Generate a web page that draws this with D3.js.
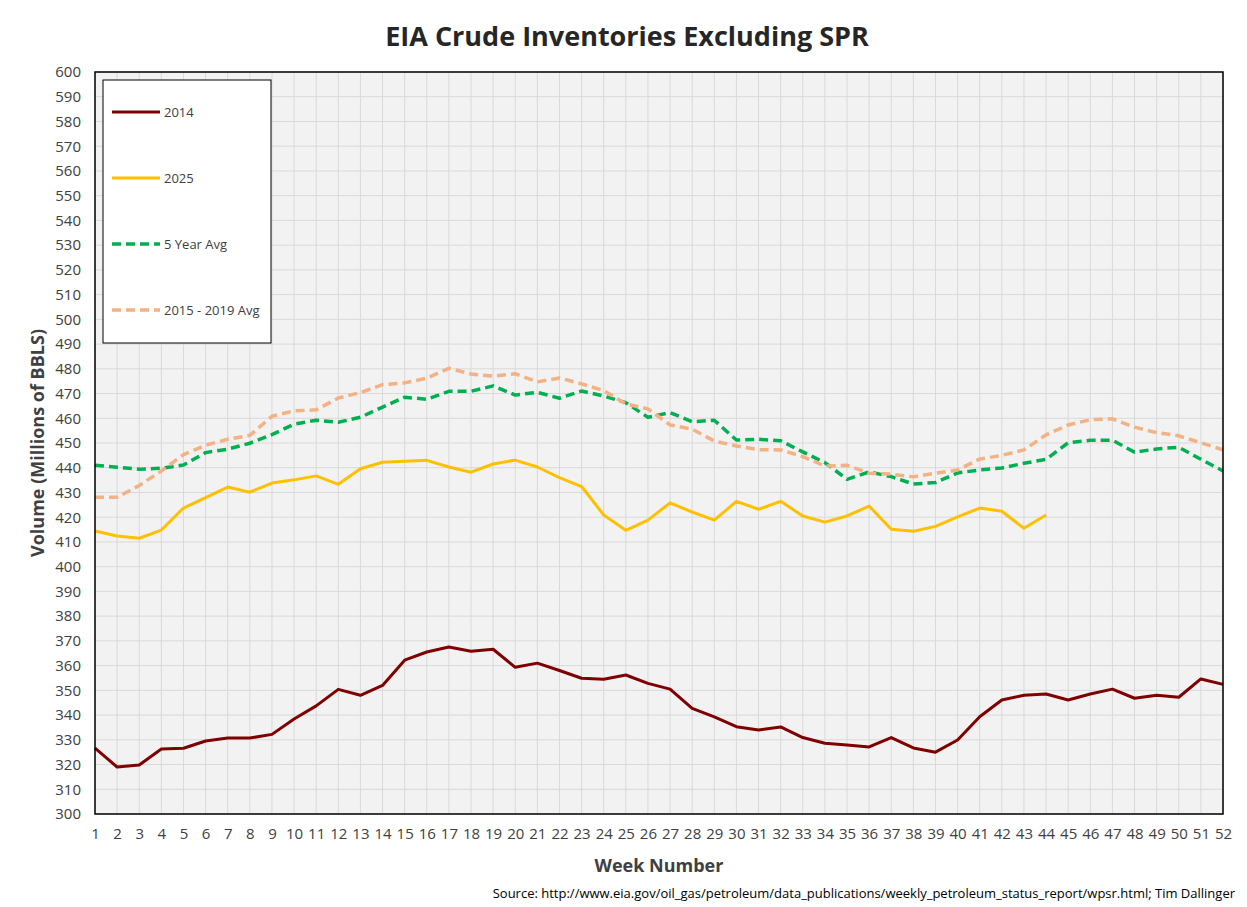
<!DOCTYPE html>
<html>
<head>
<meta charset="utf-8">
<script src="https://cdn.jsdelivr.net/npm/d3@7"></script>
<style>
  body { margin: 0; background: #fff; }
  text { font-family: "Open Sans", "DejaVu Sans", sans-serif; }
</style>
</head>
<body>
<div id="chart"></div>
<script>
const weeks = d3.range(1, 53);
const yTicks = d3.range(300, 601, 10);

const series2014 = [326.6, 319.0, 319.8, 326.3, 326.6, 329.5, 330.7, 330.7, 332.2, 338.4,
  343.7, 350.4, 348.0, 352.0, 362.2, 365.5, 367.5, 365.8, 366.6, 359.3,
  361.0, 358.0, 354.9, 354.5, 356.2, 352.8, 350.5, 342.7, 339.3, 335.3,
  334.0, 335.2, 330.9, 328.6, 327.9, 327.1, 330.9, 326.7, 325.0, 329.9,
  339.3, 346.1, 348.0, 348.5, 346.1, 348.5, 350.5, 346.8, 348.0, 347.2,
  354.6, 352.4];

const series2025 = [414.4, 412.4, 411.5, 414.8, 423.7, 427.9, 432.2, 430.1, 433.8, 435.1,
  436.7, 433.3, 439.6, 442.2, 442.6, 443.0, 440.3, 438.2, 441.5, 443.1,
  440.3, 436.0, 432.4, 420.9, 414.7, 418.8, 425.8, 422.1, 418.8, 426.4,
  423.2, 426.4, 420.5, 418.0, 420.5, 424.5, 415.1, 414.3, 416.3, 420.1,
  423.7, 422.4, 415.5, 420.9];

const fiveYearAvg = [441.0, 440.2, 439.4, 439.8, 441.1, 446.1, 447.5, 449.9, 453.4, 457.6,
  459.2, 458.4, 460.4, 464.5, 468.5, 467.7, 470.9, 470.9, 473.1, 469.4,
  470.5, 468.1, 471.0, 469.0, 466.3, 460.4, 462.3, 458.6, 459.2, 451.2,
  451.5, 450.9, 446.4, 442.1, 435.3, 438.3, 436.4, 433.4, 434.0, 437.9,
  439.1, 439.9, 441.8, 443.4, 450.1, 451.1, 451.1, 446.3, 447.6, 448.3,
  443.4, 438.7];

const avg2015to2019 = [428.1, 428.1, 432.8, 438.7, 445.3, 449.1, 451.5, 453.1, 460.8, 463.0,
  463.4, 468.2, 470.4, 473.6, 474.3, 476.2, 480.2, 477.9, 477.0, 478.0,
  474.7, 476.3, 473.9, 471.2, 465.8, 463.8, 457.3, 455.6, 450.8, 448.8,
  447.3, 447.2, 444.5, 440.7, 441.0, 437.8, 437.4, 436.3, 437.8, 439.1,
  443.5, 445.0, 447.2, 453.3, 457.3, 459.4, 459.8, 456.4, 454.2, 452.9,
  450.1, 447.2];

const seriesList = [
  { name: "2014", values: series2014, color: "#7f0000", dash: null },
  { name: "2025", values: series2025, color: "#ffc000", dash: null },
  { name: "5 Year Avg", values: fiveYearAvg, color: "#00b050", dash: "9,5" },
  { name: "2015 - 2019 Avg", values: avg2015to2019, color: "#f4b183", dash: "9,5" }
];

const W = 1247, H = 907;
const margin = { top: 72, right: 24, bottom: 93, left: 95 };
const width = W - margin.left - margin.right;
const height = H - margin.top - margin.bottom;

const svg = d3.select("#chart").append("svg")
  .attr("width", W)
  .attr("height", H);

svg.append("rect").attr("width", W).attr("height", H).attr("fill", "#fff");

// Title
svg.append("text")
  .attr("x", 627)
  .attr("y", 46)
  .attr("text-anchor", "middle")
  .style("font-size", "27px")
  .style("font-weight", "bold")
  .style("fill", "#262626")
  .text("EIA Crude Inventories Excluding SPR");

const g = svg.append("g").attr("transform", `translate(${margin.left},${margin.top})`);

const x = d3.scaleLinear().domain([1, 52]).range([0, width]);
const y = d3.scaleLinear().domain([300, 600]).range([height, 0]);

g.append("rect")
  .attr("width", width)
  .attr("height", height)
  .attr("fill", "#f2f2f2");

// Grid lines
g.append("g")
  .selectAll("line")
  .data(yTicks)
  .join("line")
  .attr("x1", 0).attr("x2", width)
  .attr("y1", d => y(d)).attr("y2", d => y(d))
  .attr("stroke", "#d9d9d9")
  .attr("stroke-width", 1);

g.append("g")
  .selectAll("line")
  .data(weeks)
  .join("line")
  .attr("x1", d => x(d)).attr("x2", d => x(d))
  .attr("y1", 0).attr("y2", height)
  .attr("stroke", "#d9d9d9")
  .attr("stroke-width", 1);

// Axes (labels only)
const yAxis = g.append("g")
  .call(d3.axisLeft(y).tickValues(yTicks).tickSize(0).tickPadding(14));
yAxis.select(".domain").remove();
yAxis.selectAll("text")
  .style("font-size", "15px")
  .style("fill", "#404040")
  .style("font-family", "'Open Sans', sans-serif");

const xAxis = g.append("g")
  .attr("transform", `translate(0,${height})`)
  .call(d3.axisBottom(x).tickValues(weeks).tickFormat(d3.format("d")).tickSize(0).tickPadding(14));
xAxis.select(".domain").remove();
xAxis.selectAll("text")
  .style("font-size", "15px")
  .style("fill", "#404040")
  .style("font-family", "'Open Sans', sans-serif");

// Lines
const line = d3.line()
  .x((d, i) => x(weeks[i]))
  .y(d => y(d));

seriesList.forEach(s => {
  g.append("path")
    .datum(s.values)
    .attr("fill", "none")
    .attr("stroke", s.color)
    .attr("stroke-width", s.dash ? 3.5 : 3)
    .attr("stroke-dasharray", s.dash)
    .attr("stroke-linejoin", "round")
    .attr("d", line);
});

// Plot border
g.append("rect")
  .attr("width", width)
  .attr("height", height)
  .attr("fill", "none")
  .attr("stroke", "#000")
  .attr("stroke-width", 1.5);

// Axis titles
svg.append("text")
  .attr("transform", `translate(44,${margin.top + height / 2}) rotate(-90)`)
  .attr("text-anchor", "middle")
  .style("font-size", "18px")
  .style("font-weight", "bold")
  .style("fill", "#404040")
  .text("Volume (Millions of BBLS)");

svg.append("text")
  .attr("x", 659)
  .attr("y", 872)
  .attr("text-anchor", "middle")
  .style("font-size", "18px")
  .style("font-weight", "bold")
  .style("fill", "#404040")
  .text("Week Number");

// Source
svg.append("text")
  .attr("x", 1235)
  .attr("y", 898)
  .attr("text-anchor", "end")
  .style("font-size", "13px")
  .style("fill", "#000")
  .text("Source: http://www.eia.gov/oil_gas/petroleum/data_publications/weekly_petroleum_status_report/wpsr.html; Tim Dallinger");

// Legend
const legend = svg.append("g").attr("transform", "translate(103,80)");
legend.append("rect")
  .attr("width", 168)
  .attr("height", 263)
  .attr("fill", "#fff")
  .attr("stroke", "#000")
  .attr("stroke-width", 1);

seriesList.forEach((s, i) => {
  const ly = 32 + i * 66;
  legend.append("line")
    .attr("x1", 9).attr("x2", 57)
    .attr("y1", ly).attr("y2", ly)
    .attr("stroke", s.color)
    .attr("stroke-width", s.dash ? 3.5 : 3)
    .attr("stroke-dasharray", s.dash);
  legend.append("text")
    .attr("x", 61)
    .attr("y", ly + 4.5)
    .style("font-size", "13px")
    .style("fill", "#404040")
    .text(s.name);
});
</script>
</body>
</html>
